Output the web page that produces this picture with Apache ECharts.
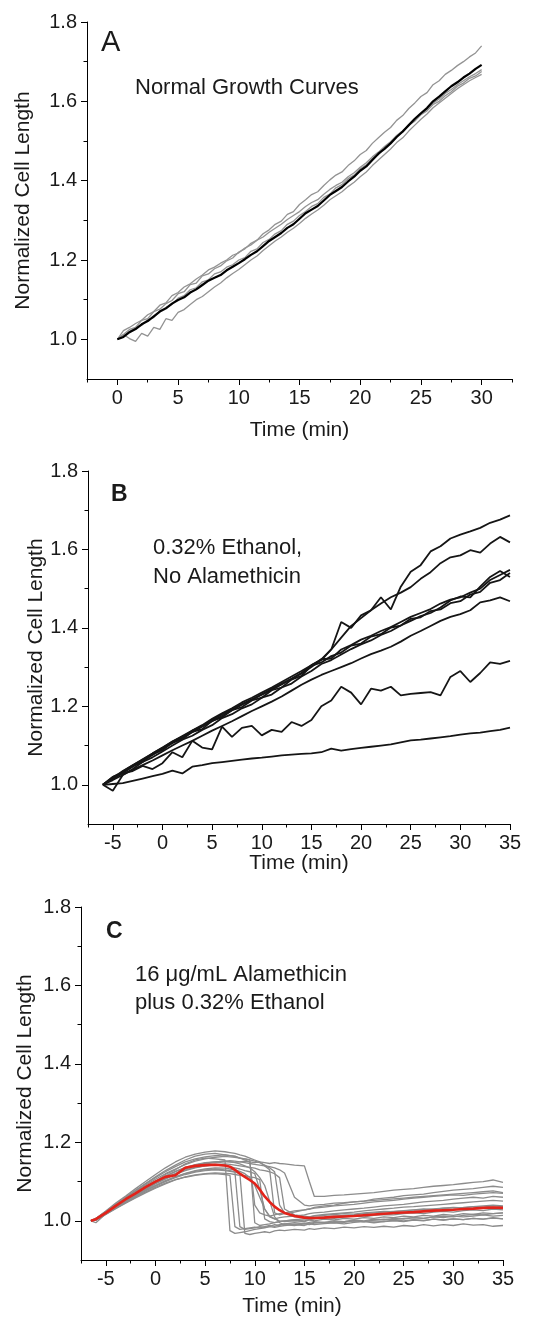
<!DOCTYPE html>
<html><head><meta charset="utf-8">
<script src="https://cdn.jsdelivr.net/npm/echarts@6/dist/echarts.min.js"></script>
<style>html,body{margin:0;padding:0;background:#fff}#c{width:544px;height:1320px}</style>
</head><body><div id="c"></div>
<script>
// ---------- Panel A: Normal growth ----------
const timeA = [0,0.5,1,1.5,2,2.5,3,3.5,4,4.5,5,5.5,6,6.5,7,7.5,8,8.5,9,9.5,10,10.5,11,11.5,12,12.5,13,13.5,14,14.5,15,15.5,16,16.5,17,17.5,18,18.5,19,19.5,20,20.5,21,21.5,22,22.5,23,23.5,24,24.5,25,25.5,26,26.5,27,27.5,28,28.5,29,29.5,30];
const meanA = [1.000,1.006,1.018,1.026,1.038,1.046,1.058,1.070,1.078,1.090,1.099,1.106,1.118,1.126,1.137,1.148,1.155,1.162,1.174,1.183,1.192,1.202,1.213,1.222,1.235,1.248,1.258,1.268,1.281,1.290,1.304,1.318,1.327,1.336,1.350,1.364,1.374,1.384,1.398,1.410,1.425,1.436,1.452,1.468,1.480,1.494,1.510,1.524,1.540,1.556,1.570,1.583,1.600,1.612,1.625,1.638,1.648,1.660,1.670,1.682,1.692];
const cellA1 = [1.000,1.012,1.025,1.030,1.048,1.052,1.070,1.076,1.090,1.098,1.115,1.120,1.138,1.142,1.160,1.165,1.178,1.185,1.198,1.205,1.220,1.228,1.242,1.250,1.266,1.276,1.290,1.298,1.315,1.322,1.340,1.352,1.365,1.372,1.388,1.402,1.414,1.422,1.438,1.450,1.466,1.476,1.494,1.508,1.522,1.534,1.552,1.564,1.582,1.596,1.612,1.622,1.642,1.652,1.668,1.678,1.690,1.700,1.712,1.722,1.740];
const cellA2 = [1.000,1.012,1.002,0.995,1.015,1.008,1.030,1.025,1.052,1.048,1.068,1.075,1.088,1.100,1.108,1.120,1.132,1.142,1.155,1.166,1.176,1.188,1.200,1.210,1.224,1.236,1.248,1.258,1.270,1.280,1.292,1.305,1.316,1.326,1.338,1.352,1.362,1.372,1.385,1.396,1.410,1.422,1.438,1.452,1.466,1.480,1.496,1.508,1.525,1.540,1.555,1.568,1.584,1.596,1.608,1.620,1.632,1.642,1.652,1.660,1.668];
const cellA3 = [1.000,1.022,1.030,1.040,1.048,1.062,1.070,1.086,1.092,1.110,1.118,1.132,1.140,1.152,1.162,1.175,1.182,1.192,1.200,1.212,1.218,1.230,1.238,1.250,1.258,1.270,1.280,1.290,1.302,1.312,1.322,1.335,1.345,1.352,1.366,1.378,1.388,1.396,1.410,1.420,1.434,1.445,1.460,1.472,1.486,1.498,1.514,1.526,1.540,1.554,1.568,1.580,1.595,1.606,1.620,1.630,1.642,1.652,1.662,1.670,1.680];
const cellA4 = [1.000,1.008,1.020,1.030,1.035,1.050,1.055,1.072,1.080,1.088,1.104,1.110,1.125,1.130,1.145,1.150,1.165,1.170,1.182,1.188,1.200,1.206,1.222,1.228,1.244,1.252,1.266,1.274,1.290,1.298,1.312,1.322,1.335,1.342,1.358,1.366,1.382,1.390,1.405,1.414,1.430,1.440,1.456,1.466,1.484,1.494,1.512,1.522,1.540,1.550,1.566,1.576,1.592,1.600,1.614,1.624,1.638,1.646,1.658,1.664,1.675];

// ---------- Panel B: 0.32% ethanol, no alamethicin ----------
const timeB = [-6,-5,-4,-3,-2,-1,0,1,2,3,4,5,6,7,8,9,10,11,12,13,14,15,16,17,18,19,20,21,22,23,24,25,26,27,28,29,30,31,32,33,34,35];
const cellB1 = [1.000,1.020,1.034,1.050,1.064,1.080,1.094,1.110,1.124,1.138,1.152,1.168,1.182,1.195,1.210,1.222,1.235,1.248,1.262,1.276,1.290,1.305,1.318,1.345,1.415,1.400,1.432,1.445,1.478,1.447,1.505,1.543,1.560,1.595,1.608,1.628,1.638,1.646,1.655,1.668,1.676,1.687];
const cellB2 = [1.000,1.016,1.030,1.046,1.062,1.076,1.092,1.106,1.120,1.134,1.148,1.162,1.176,1.190,1.204,1.216,1.230,1.242,1.256,1.270,1.284,1.300,1.320,1.345,1.375,1.405,1.425,1.445,1.462,1.478,1.490,1.504,1.525,1.542,1.565,1.580,1.585,1.598,1.592,1.615,1.632,1.618];
const cellB3 = [1.000,1.020,1.030,1.048,1.058,1.078,1.088,1.108,1.116,1.135,1.142,1.163,1.172,1.190,1.198,1.215,1.222,1.241,1.248,1.268,1.278,1.303,1.312,1.328,1.337,1.355,1.360,1.378,1.384,1.401,1.406,1.423,1.427,1.443,1.447,1.463,1.468,1.485,1.492,1.515,1.522,1.540];
const cellB4 = [1.000,0.985,1.025,1.040,1.058,1.070,1.085,1.100,1.115,1.125,1.140,1.152,1.170,1.180,1.195,1.205,1.222,1.230,1.248,1.258,1.276,1.290,1.308,1.318,1.332,1.346,1.358,1.368,1.382,1.392,1.406,1.418,1.430,1.438,1.452,1.470,1.480,1.478,1.505,1.530,1.545,1.530];
const cellB5 = [1.000,1.015,1.035,1.050,1.065,1.080,1.095,1.110,1.122,1.138,1.150,1.165,1.180,1.192,1.206,1.218,1.230,1.245,1.258,1.270,1.285,1.305,1.320,1.322,1.345,1.356,1.370,1.380,1.392,1.402,1.415,1.428,1.438,1.448,1.462,1.472,1.478,1.490,1.500,1.522,1.535,1.548];
const cellB6 = [1.000,1.012,1.025,1.038,1.050,1.062,1.075,1.088,1.100,1.112,1.125,1.138,1.150,1.162,1.175,1.188,1.200,1.212,1.225,1.240,1.255,1.268,1.280,1.290,1.300,1.310,1.322,1.333,1.342,1.352,1.365,1.380,1.392,1.405,1.418,1.428,1.435,1.445,1.465,1.470,1.478,1.468];
const cellB7 = [1.000,1.015,1.030,1.035,1.048,1.040,1.055,1.083,1.070,1.112,1.095,1.090,1.148,1.122,1.145,1.150,1.126,1.140,1.135,1.160,1.150,1.165,1.200,1.215,1.250,1.235,1.205,1.245,1.240,1.250,1.228,1.232,1.234,1.236,1.228,1.275,1.290,1.262,1.285,1.312,1.308,1.316];
const cellB8 = [1.000,1.002,1.004,1.010,1.016,1.022,1.028,1.036,1.029,1.046,1.050,1.055,1.058,1.061,1.064,1.067,1.069,1.072,1.075,1.077,1.079,1.080,1.083,1.092,1.087,1.091,1.094,1.097,1.100,1.103,1.108,1.113,1.115,1.118,1.121,1.124,1.128,1.131,1.133,1.137,1.140,1.146];

// ---------- Panel C: 16 ug/mL alamethicin + 0.32% ethanol ----------
const timeC = [-6.5,-6,-5,-4,-3,-2,-1,0,1,2,3,4,5,6,7,7.5,8,8.5,9,9.5,10,10.5,11,11.5,12,12.5,13,14,15,15.5,16,17,18,19,20,21,22,23,24,25,26,27,28,29,30,31,32,33,34,35];
const meanC = [1.000,1.004,1.020,1.038,1.055,1.070,1.086,1.100,1.112,1.116,1.135,1.140,1.142,1.143,1.141,1.138,1.130,1.120,1.112,1.104,1.095,1.080,1.062,1.048,1.036,1.027,1.020,1.012,1.008,1.007,1.007,1.008,1.010,1.011,1.012,1.014,1.016,1.018,1.020,1.021,1.022,1.024,1.026,1.027,1.028,1.030,1.031,1.033,1.034,1.033];
const cellC1 = [1.000,1.006,1.025,1.045,1.063,1.082,1.100,1.118,1.135,1.150,1.162,1.170,1.175,1.178,1.176,1.174,1.172,1.168,1.165,1.160,1.155,1.150,1.140,1.130,1.020,1.015,1.018,1.022,1.028,1.030,1.034,1.038,1.040,1.045,1.048,1.050,1.055,1.058,1.060,1.064,1.066,1.068,1.072,1.075,1.078,1.080,1.082,1.085,1.088,1.085];
const cellC2 = [1.000,1.002,1.022,1.040,1.060,1.078,1.095,1.112,1.128,1.142,1.155,1.165,1.170,1.172,1.168,1.166,1.165,1.160,1.155,1.150,1.040,1.020,1.015,1.012,1.015,1.018,1.020,1.025,1.028,1.030,1.032,1.035,1.038,1.040,1.042,1.045,1.048,1.050,1.052,1.055,1.058,1.060,1.062,1.064,1.066,1.065,1.068,1.070,1.072,1.070];
const cellC3 = [1.000,0.995,1.018,1.035,1.052,1.068,1.085,1.100,1.118,1.130,1.145,1.155,1.160,1.158,1.155,0.975,0.968,0.970,0.972,0.975,0.978,0.980,0.982,0.985,0.983,0.986,0.988,0.990,0.988,0.992,0.990,0.993,0.995,0.992,0.996,0.998,0.995,0.998,1.000,0.998,1.002,1.000,1.004,1.002,1.005,1.003,1.006,1.004,1.008,1.005];
const cellC4 = [1.000,1.004,1.020,1.036,1.052,1.068,1.082,1.096,1.108,1.120,1.132,1.140,1.145,1.148,1.150,1.150,1.149,1.150,1.152,1.150,1.148,1.150,1.148,1.146,1.148,1.146,1.145,1.142,1.140,1.100,1.062,1.062,1.065,1.066,1.068,1.070,1.072,1.075,1.078,1.080,1.082,1.085,1.088,1.090,1.092,1.095,1.098,1.100,1.104,1.098];
const cellC5 = [1.000,1.003,1.018,1.034,1.050,1.066,1.080,1.094,1.106,1.118,1.128,1.135,1.140,1.142,1.140,1.138,1.135,1.132,1.128,1.125,1.120,1.080,1.030,1.010,1.005,1.008,1.010,1.012,1.015,1.018,1.020,1.022,1.025,1.028,1.030,1.032,1.035,1.038,1.040,1.042,1.045,1.048,1.050,1.052,1.055,1.058,1.060,1.058,1.062,1.060];
const cellC6 = [1.000,1.005,1.019,1.035,1.050,1.064,1.078,1.090,1.102,1.112,1.120,1.126,1.130,1.132,1.130,1.128,1.125,0.985,0.978,0.980,0.982,0.985,0.983,0.986,0.990,0.988,0.992,0.995,0.993,0.996,0.998,0.996,1.000,0.998,1.002,1.000,1.004,1.002,1.006,1.004,1.008,1.006,1.010,1.008,1.012,1.010,1.012,1.015,1.012,1.014];
const cellC7 = [1.000,1.002,1.020,1.037,1.054,1.068,1.084,1.097,1.110,1.120,1.130,1.136,1.140,1.143,1.145,1.144,1.142,1.140,1.138,1.136,1.134,1.130,1.128,1.125,1.120,1.110,1.030,1.015,1.012,1.010,1.013,1.016,1.018,1.020,1.022,1.025,1.028,1.030,1.032,1.035,1.036,1.038,1.040,1.042,1.044,1.046,1.048,1.050,1.052,1.050];
const cellC8 = [1.000,1.004,1.017,1.032,1.046,1.060,1.073,1.085,1.096,1.105,1.112,1.117,1.120,1.122,1.121,1.120,1.118,1.116,1.115,1.112,1.110,1.105,1.005,0.998,0.995,0.998,1.000,1.002,1.000,1.003,1.005,1.008,1.006,1.010,1.012,1.010,1.014,1.016,1.015,1.018,1.020,1.018,1.022,1.024,1.022,1.026,1.028,1.026,1.030,1.028];
const cellC9 = [1.000,1.006,1.022,1.040,1.056,1.072,1.087,1.101,1.114,1.126,1.136,1.143,1.148,1.150,1.152,1.150,1.148,1.145,1.140,1.135,1.125,1.110,1.090,1.050,1.010,0.995,0.990,0.988,0.992,0.990,0.994,0.996,0.995,0.998,1.000,0.998,1.002,1.004,1.003,1.006,1.008,1.006,1.010,1.012,1.010,1.014,1.016,1.015,1.018,1.020];
const cellC10 = [1.000,1.003,1.018,1.033,1.048,1.062,1.076,1.088,1.100,1.110,1.118,1.124,1.128,1.130,1.128,1.126,1.124,1.120,0.968,0.965,0.968,0.970,0.972,0.970,0.974,0.976,0.975,0.978,0.976,0.980,0.978,0.982,0.980,0.984,0.982,0.985,0.983,0.986,0.984,0.988,0.986,0.990,0.987,0.990,0.988,0.992,0.989,0.990,0.986,0.988];
const cellC11 = [1.000,1.005,1.023,1.041,1.058,1.075,1.091,1.106,1.120,1.132,1.143,1.152,1.158,1.162,1.164,1.163,1.162,1.160,1.158,1.155,1.152,1.148,1.142,1.135,1.125,1.040,1.020,1.010,1.008,1.010,1.012,1.014,1.016,1.018,1.017,1.020,1.022,1.024,1.023,1.026,1.028,1.030,1.029,1.032,1.034,1.033,1.036,1.038,1.040,1.038];
const cellC12 = [1.000,1.001,1.016,1.031,1.045,1.058,1.071,1.083,1.094,1.104,1.111,1.116,1.119,1.120,1.118,1.116,0.985,0.978,0.980,0.982,0.984,0.982,0.985,0.988,0.986,0.990,0.992,0.990,0.994,0.992,0.996,0.994,0.998,0.996,1.000,0.998,1.000,0.998,1.002,1.000,1.003,1.001,1.004,1.002,1.005,1.003,1.006,1.004,1.007,1.005];
const cellC13 = [1.000,1.004,1.021,1.038,1.055,1.071,1.086,1.100,1.113,1.125,1.135,1.142,1.147,1.150,1.152,1.153,1.152,1.150,1.148,1.146,1.144,1.142,1.140,1.138,1.135,1.130,1.122,1.060,1.040,1.038,1.040,1.042,1.045,1.046,1.048,1.050,1.052,1.054,1.056,1.058,1.060,1.062,1.064,1.066,1.068,1.070,1.072,1.074,1.076,1.072];
const cellC14 = [1.000,1.002,1.018,1.034,1.049,1.063,1.077,1.090,1.102,1.112,1.121,1.128,1.132,1.135,1.134,1.132,1.130,1.126,1.120,1.110,1.090,1.060,1.030,1.012,1.005,1.000,0.998,1.000,0.998,1.002,1.000,1.004,1.002,1.006,1.004,1.008,1.006,1.010,1.008,1.012,1.010,1.014,1.012,1.016,1.014,1.018,1.016,1.020,1.018,1.020];
const cellC15 = [1.000,1.006,1.024,1.042,1.060,1.077,1.094,1.110,1.125,1.138,1.150,1.158,1.163,1.166,1.168,1.166,1.164,1.160,1.158,1.155,0.995,0.988,0.990,0.992,0.995,0.998,1.000,1.003,1.005,1.004,1.008,1.010,1.012,1.014,1.015,1.018,1.020,1.022,1.024,1.025,1.027,1.028,1.030,1.032,1.033,1.034,1.036,1.035,1.038,1.036];

// ---------- Axis ticks ----------
const yMajor = [1.0, 1.2, 1.4, 1.6, 1.8];
const yMinor = [1.1, 1.3, 1.5, 1.7];
const xMajorA = [0, 5, 10, 15, 20, 25, 30];
const xMinorA = [-2.5, 2.5, 7.5, 12.5, 17.5, 22.5, 27.5, 32.5];
const xMajorBC = [-5, 0, 5, 10, 15, 20, 25, 30, 35];
const xMinorBC = [-7.5, -2.5, 2.5, 7.5, 12.5, 17.5, 22.5, 27.5, 32.5];

const FONT = '"Liberation Sans", Arial, sans-serif';
const TXT = '#1a1a1a';

const grids = [
  {left: 87, top: 22, width: 425, height: 357},
  {left: 88, top: 471, width: 422, height: 353},
  {left: 81, top: 907, width: 422, height: 353}
].map(g => Object.assign({containLabel: false, outerBoundsMode: 'none'}, g));

const xRanges = [[-2.5, 32.5], [-7.5, 35], [-7.5, 35]];
const xMajors = [xMajorA, xMajorBC, xMajorBC];
const xMinors = [xMinorA, xMinorBC, xMinorBC];
const xNameGaps = [41, 29, 36];
const yNameGaps = [53, 41, 45];

const xAxes = [], yAxes = [];
for (let g = 0; g < 3; g++) {
  xAxes.push({
    type: 'value', gridIndex: g, min: xRanges[g][0], max: xRanges[g][1], position: 'bottom',
    axisLine: {show: true, onZero: false, lineStyle: {color: '#000', width: 1}},
    axisTick: {show: true, length: 6, customValues: xMajors[g], lineStyle: {color: '#000', width: 1}},
    axisLabel: {show: true, customValues: xMajors[g], fontSize: 20, color: TXT, fontFamily: FONT, margin: 9},
    splitLine: {show: false},
    name: 'Time (min)', nameLocation: 'middle', nameGap: xNameGaps[g], nameMoveOverlap: false,
    nameTextStyle: {fontSize: 21, color: TXT, fontFamily: FONT}
  });
  xAxes.push({
    type: 'value', gridIndex: g, min: xRanges[g][0], max: xRanges[g][1], position: 'bottom',
    axisLine: {show: false, onZero: false},
    axisTick: {show: true, length: 3.5, customValues: xMinors[g], lineStyle: {color: '#000', width: 1}},
    axisLabel: {show: false}, splitLine: {show: false}
  });
  yAxes.push({
    type: 'value', gridIndex: g, min: 0.9, max: 1.8, position: 'left',
    axisLine: {show: true, onZero: false, lineStyle: {color: '#000', width: 1}},
    axisTick: {show: true, length: 6, customValues: yMajor, lineStyle: {color: '#000', width: 1}},
    axisLabel: {show: true, customValues: yMajor, formatter: v => v.toFixed(1), fontSize: 20, color: TXT, fontFamily: FONT, margin: 10},
    splitLine: {show: false},
    name: 'Normalized Cell Length', nameLocation: 'middle', nameGap: yNameGaps[g], nameMoveOverlap: false,
    nameTextStyle: {fontSize: 21, color: TXT, fontFamily: FONT}
  });
  yAxes.push({
    type: 'value', gridIndex: g, min: 0.9, max: 1.8, position: 'left',
    axisLine: {show: false, onZero: false},
    axisTick: {show: true, length: 3.5, customValues: yMinor, lineStyle: {color: '#000', width: 1}},
    axisLabel: {show: false}, splitLine: {show: false}
  });
}

function pair(t, v) { return t.map((x, i) => [x, v[i]]); }
function line(g, t, v, color, width, z) {
  return {
    type: 'line', xAxisIndex: g * 2, yAxisIndex: g * 2, data: pair(t, v),
    showSymbol: false, symbol: 'none', smooth: false, clip: true, z: z || 2,
    lineStyle: {color: color, width: width}, emphasis: {disabled: true}
  };
}

const grayA = '#939393', grayC = '#8c8c8c';
const series = [];
[cellA1, cellA2, cellA3, cellA4].forEach(c => series.push(line(0, timeA, c, grayA, 1.3, 2)));
series.push(line(0, timeA, meanA, '#000', 2.2, 3));
[cellB1, cellB2, cellB3, cellB4, cellB5, cellB6, cellB7, cellB8].forEach(c => series.push(line(1, timeB, c, '#151515', 1.8, 2)));
[cellC1, cellC2, cellC3, cellC4, cellC5, cellC6, cellC7, cellC8, cellC9, cellC10, cellC11, cellC12, cellC13, cellC14, cellC15]
  .forEach(c => series.push(line(2, timeC, c, grayC, 1.3, 2)));
series.push(line(2, timeC, meanC, '#e2231a', 2.6, 3));

function txtAt(x, y, s, size, weight) {
  return {type: 'text', x: x, y: y, z: 10,
    style: {text: s, fontSize: size, fontWeight: weight || 'normal', fill: TXT, fontFamily: FONT, verticalAlign: 'middle', align: 'left'}};
}

const graphics = [
  txtAt(101, 43, 'A', 29),
  txtAt(135, 88, 'Normal Growth Curves', 22),
  txtAt(111, 495, 'B', 23, 'bold'),
  txtAt(153, 548, '0.32% Ethanol,', 22),
  txtAt(153, 577, 'No Alamethicin', 22),
  txtAt(106, 932, 'C', 23, 'bold'),
  txtAt(135, 975, '16 \u03bcg/mL Alamethicin', 22),
  txtAt(135, 1003, 'plus 0.32% Ethanol', 22)
];

const chart = echarts.init(document.getElementById('c'), null, {renderer: 'canvas'});
chart.setOption({
  animation: false,
  backgroundColor: '#fff',
  grid: grids,
  xAxis: xAxes,
  yAxis: yAxes,
  series: series,
  graphic: graphics
});
</script></body></html>
